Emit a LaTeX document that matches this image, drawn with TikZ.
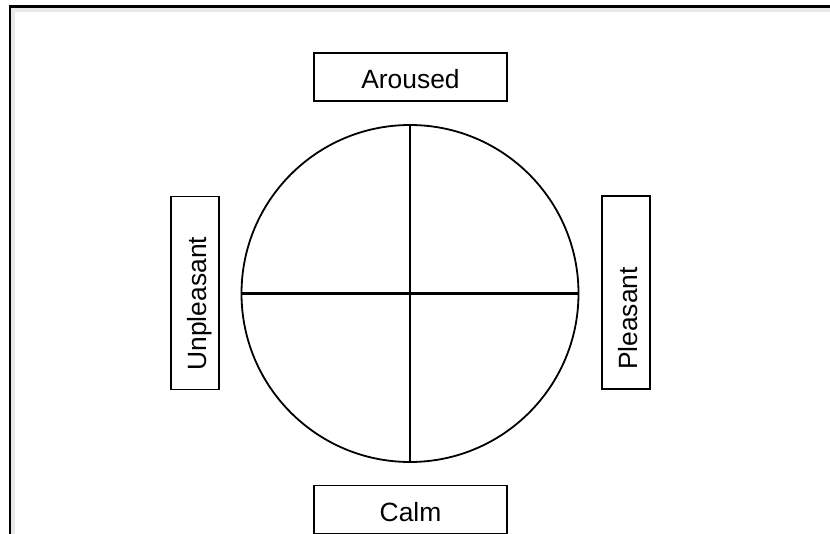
\documentclass[tikz,border=0pt]{standalone}
\usepackage{fontspec}
\setmainfont{Liberation Sans}
\begin{document}
\begin{tikzpicture}[x=0.5pt,y=-0.5pt,
  lbl/.style={font=\fontsize{13.2}{15}\selectfont},
  hbox/.style={lbl, draw, line width=0.55pt, minimum width=96.5pt, minimum height=24pt,
    inner sep=0pt, text height=12pt, text depth=0pt},
  vbox/.style={lbl, draw, line width=0.55pt, rotate=90, minimum width=96.5pt, minimum height=24pt,
    inner xsep=9.5pt, inner ysep=0pt, text width=77.5pt, align=left, text height=11pt, text depth=0pt},
  wheel/.style={circle, draw, line width=0.9pt, minimum size=168.5pt, inner sep=0pt, outer sep=0pt},
  axis/.style={line width=1.1pt}
]
\useasboundingbox (0,0) rectangle (830,534);
% outer frame
\draw[gray!18, line width=2pt] (12.5,534) -- (12.5,10.5) -- (830,10.5);
\draw[line width=1.3pt] (10,534) -- (10,6.7) -- (830,6.7);
% wheel
\node[wheel] (c) at (410,293.5) {};
\draw[axis] (c.north) -- (c.south);
\draw[axis] (c.west) -- (c.east);
% labels
\node[hbox] (aroused) at (410.5,77) {Aroused};
\node[hbox] (calm) at (410.5,509.5) {Calm};
\node[vbox] (unpleasant) at (195,293) {Unpleasant};
\node[vbox] (pleasant) at (626,292.5) {Pleasant};
\end{tikzpicture}
\end{document}
